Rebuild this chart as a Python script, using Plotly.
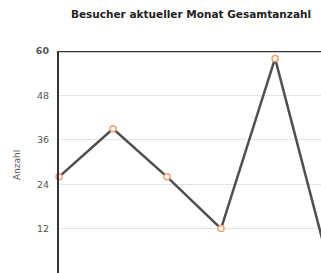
import plotly.graph_objects as go

categories = ["1", "2", "3", "4", "5", "6"]
besucher = [26, 39, 26, 12, 58, 2]
tick_vals = [0, 12, 24, 36, 48, 60]
tick_text = ["0", "12", "24", "36", "48", "<b>60</b>"]

fig = go.Figure()
fig.add_trace(go.Scatter(
    x=categories, y=besucher, mode="lines+markers",
    line=dict(color="#505050", width=2.5),
    marker=dict(size=6, color="white", line=dict(color="#f0a070", width=1.5)),
    cliponaxis=False,
))

fig.update_layout(
    width=321, height=273,
    margin=dict(l=59, r=0, t=51, b=0, autoexpand=False),
    paper_bgcolor="white", plot_bgcolor="white",
    showlegend=False,
    title=dict(text="<b>Besucher aktueller Monat Gesamtanzahl</b>",
               x=191 / 321, xanchor="center", y=1 - 14 / 273, yanchor="middle",
               automargin=False,
               font=dict(family="DejaVu Sans", size=10.5, color="#222")),
    xaxis=dict(type="category", range=[0, 4.85], showgrid=False, zeroline=False,
               showticklabels=False, ticks="", showline=False, automargin=False),
    yaxis=dict(range=[0, 60], tickvals=tick_vals, ticktext=tick_text,
               showgrid=True, gridcolor="#e4e4e4", gridwidth=1, zeroline=False,
               showline=True, linecolor="#333", linewidth=2, automargin=False,
               tickfont=dict(family="DejaVu Sans", size=9.5, color="#555"),
               ticks="", ticklabelstandoff=6),
    annotations=[dict(text="Anzahl", textangle=-90, xref="paper", yref="paper",
                      x=(17 - 59) / 262, y=(273 - 165) / 222, xanchor="center", yanchor="middle",
                      showarrow=False, font=dict(family="DejaVu Sans", size=9, color="#555"))],
    shapes=[dict(type="line", xref="paper", yref="y", x0=0, x1=1, y0=60, y1=60,
                 line=dict(color="#333", width=2.5))],
)

fig.write_html("out.html", config={"displayModeBar": False},
               post_script="document.body.style.margin='0';")
